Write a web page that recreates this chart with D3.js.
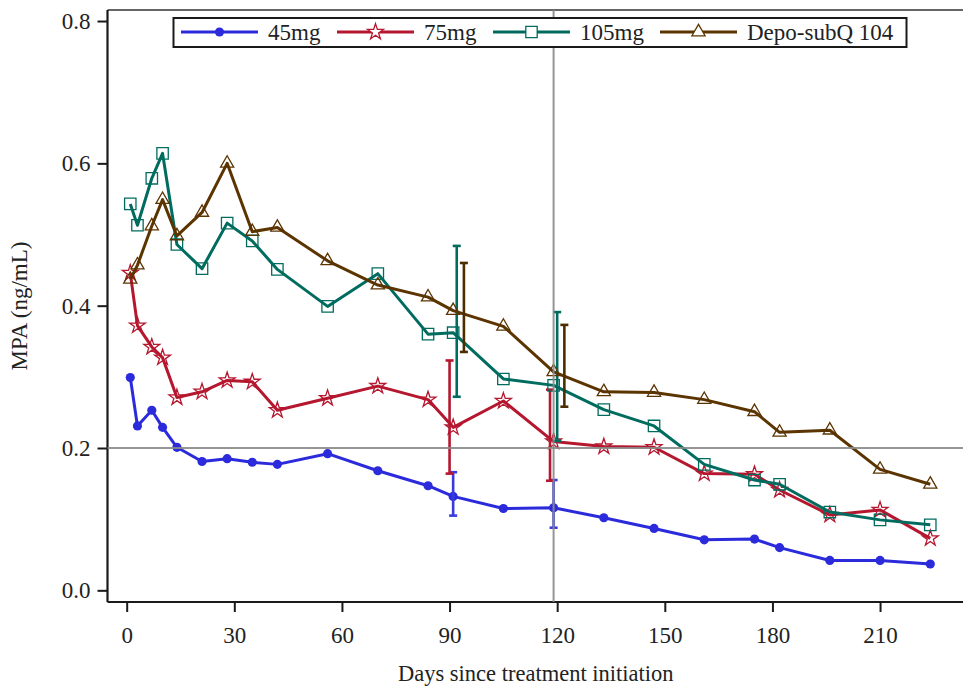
<!DOCTYPE html>
<html>
<head>
<meta charset="utf-8">
<script src="https://cdn.jsdelivr.net/npm/d3@7"></script>
<style>
  body { margin: 0; background: #fff; }
  svg { display: block; font-family: "Liberation Serif", "Times New Roman", serif; }
</style>
</head>
<body>
<div id="chart"></div>
<script>
// days of each sample
const days = [1, 3, 7, 10, 14, 21, 28, 35, 42, 56, 70, 84, 91, 105, 119, 133, 147, 161, 175, 182, 196, 210, 224];

const mpa45 = [0.299, 0.231, 0.253, 0.229, 0.201, 0.181, 0.185, 0.180, 0.177, 0.192, 0.168, 0.147, 0.132, 0.115, 0.116, 0.102, 0.087, 0.071, 0.072, 0.060, 0.042, 0.042, 0.037];
const mpa75 = [0.446, 0.372, 0.342, 0.327, 0.271, 0.279, 0.295, 0.293, 0.253, 0.270, 0.287, 0.268, 0.229, 0.266, 0.209, 0.202, 0.201, 0.164, 0.163, 0.141, 0.106, 0.113, 0.073];
const mpa105 = [0.543, 0.513, 0.579, 0.614, 0.486, 0.452, 0.516, 0.491, 0.451, 0.399, 0.445, 0.360, 0.362, 0.297, 0.288, 0.254, 0.231, 0.177, 0.155, 0.149, 0.110, 0.099, 0.092];
const mpaDepo = [0.437, 0.457, 0.512, 0.549, 0.498, 0.531, 0.600, 0.504, 0.510, 0.463, 0.429, 0.412, 0.393, 0.371, 0.307, 0.279, 0.278, 0.268, 0.251, 0.222, 0.225, 0.170, 0.149];

// error bars: [day, low, high]
const err45 = [[91, 0.105, 0.166], [119, 0.088, 0.155]];
const err75 = [[90, 0.164, 0.323], [118, 0.154, 0.282]];
const err105 = [[92, 0.272, 0.484], [120, 0.210, 0.391]];
const errDepo = [[94, 0.335, 0.460], [122, 0.258, 0.373]];

const seriesNames = ["45mg", "75mg", "105mg", "Depo-subQ 104"];
const yTicks = [0.0, 0.2, 0.4, 0.6, 0.8];
const xTicks = [0, 30, 60, 90, 120, 150, 180, 210];
const refDay = 119;
const refLevel = 0.2;

const series = [
  { name: seriesNames[0], values: mpa45, err: err45, color: "#2b2bdc", errColor: "#3a3ade", symbol: d3.symbolCircle, size: 66, fill: true },
  { name: seriesNames[1], values: mpa75, err: err75, color: "#b5172f", errColor: "#b5172f", symbol: d3.symbolStar, size: 78, fill: false },
  { name: seriesNames[2], values: mpa105, err: err105, color: "#006c5f", errColor: "#006c5f", symbol: d3.symbolSquare, size: 130, fill: false },
  { name: seriesNames[3], values: mpaDepo, err: errDepo, color: "#5b3400", errColor: "#4d2c00", symbol: d3.symbolTriangle, size: 75, fill: false }
];

const W = 963, H = 690;
const margin = { top: 10, right: -1, bottom: 88, left: 107.5 };
const width = W - margin.left - margin.right;
const height = H - margin.top - margin.bottom;

const svg = d3.select("#chart")
  .append("svg")
  .attr("width", W)
  .attr("height", H);

const g = svg.append("g")
  .attr("transform", `translate(${margin.left},${margin.top})`);

const x = d3.scaleLinear().domain([-5.35, 233.4]).range([0, width]);
const y = d3.scaleLinear().domain([-0.0164, 0.8155]).range([height, 0]);

// frame top
g.append("line")
  .attr("x1", 0).attr("x2", width)
  .attr("y1", 0).attr("y2", 0)
  .attr("stroke", "#333")
  .attr("stroke-width", 1.5);

// axes
const yAxis = g.append("g")
  .call(d3.axisLeft(y).tickValues(yTicks).tickFormat(d3.format(".1f")).tickSize(10).tickPadding(7));
const xAxis = g.append("g")
  .attr("transform", `translate(0,${height})`)
  .call(d3.axisBottom(x).tickValues(xTicks).tickSize(10).tickPadding(15));

[xAxis, yAxis].forEach((a) => {
  a.select(".domain").attr("stroke", "#1a1a1a").attr("stroke-width", 2.2);
  a.selectAll(".tick line").attr("stroke", "#1a1a1a").attr("stroke-width", 2);
  a.selectAll(".tick text")
    .attr("fill", "#222")
    .style("font-size", "23px")
    .style("font-family", "Liberation Serif, serif");
});
xAxis.select(".domain").attr("d", `M0,0H${width}`);
yAxis.select(".domain").attr("d", `M0,${height}V0`);

// axis titles
svg.append("text")
  .attr("transform", `translate(27,${margin.top + height / 2}) rotate(-90)`)
  .attr("text-anchor", "middle")
  .attr("fill", "#222")
  .style("font-size", "23px")
  .text("MPA (ng/mL)");

svg.append("text")
  .attr("x", margin.left + width / 2)
  .attr("y", 681)
  .attr("text-anchor", "middle")
  .attr("fill", "#222")
  .style("font-size", "22.5px")
  .text("Days since treatment initiation");

const line = d3.line()
  .x((d) => x(d[0]))
  .y((d) => y(d[1]));

series.forEach((s) => {
  const pts = days.map((d, i) => [d, s.values[i]]);

  g.append("path")
    .datum(pts)
    .attr("fill", "none")
    .attr("stroke", s.color)
    .attr("stroke-width", 3)
    .attr("stroke-linejoin", "round")
    .attr("d", line);

  g.selectAll(null)
    .data(pts)
    .enter()
    .append("path")
    .attr("transform", (d) => `translate(${x(d[0])},${y(d[1])})`)
    .attr("d", d3.symbol().type(s.symbol).size(s.size))
    .attr("fill", s.fill ? s.color : "none")
    .attr("stroke", s.color)
    .attr("stroke-width", s.fill ? 0 : 1.3);

  // error bars
  const eb = g.selectAll(null)
    .data(s.err)
    .enter()
    .append("g")
    .attr("stroke", s.errColor)
    .attr("stroke-width", 2.6);
  eb.append("line")
    .attr("x1", (d) => x(d[0])).attr("x2", (d) => x(d[0]))
    .attr("y1", (d) => y(d[1])).attr("y2", (d) => y(d[2]));
  eb.append("line")
    .attr("x1", (d) => x(d[0]) - 4).attr("x2", (d) => x(d[0]) + 4)
    .attr("y1", (d) => y(d[1])).attr("y2", (d) => y(d[1]));
  eb.append("line")
    .attr("x1", (d) => x(d[0]) - 4).attr("x2", (d) => x(d[0]) + 4)
    .attr("y1", (d) => y(d[2])).attr("y2", (d) => y(d[2]));
});

// reference lines
g.append("line")
  .attr("x1", 0).attr("x2", width)
  .attr("y1", y(refLevel)).attr("y2", y(refLevel))
  .attr("stroke", "#8a8a8a")
  .attr("stroke-opacity", 0.9)
  .attr("stroke-width", 2);
g.append("line")
  .attr("x1", x(refDay)).attr("x2", x(refDay))
  .attr("y1", 0).attr("y2", height)
  .attr("stroke", "#8a8a8a")
  .attr("stroke-opacity", 0.9)
  .attr("stroke-width", 2);

// legend
const legend = svg.append("g");
legend.append("rect")
  .attr("x", 173.5).attr("y", 18)
  .attr("width", 733).attr("height", 29)
  .attr("fill", "#fff")
  .attr("stroke", "#1a1a1a")
  .attr("stroke-width", 2);

const legendX = [181, 337, 493, 660];
series.forEach((s, i) => {
  const lx = legendX[i];
  const item = legend.append("g").attr("transform", `translate(${lx},32)`);
  item.append("line")
    .attr("x1", 0).attr("x2", 77)
    .attr("stroke", s.color)
    .attr("stroke-width", 3);
  item.append("path")
    .attr("transform", "translate(38.5,0)")
    .attr("d", d3.symbol().type(s.symbol).size(s.size))
    .attr("fill", s.fill ? s.color : "#fff")
    .attr("stroke", s.color)
    .attr("stroke-width", s.fill ? 0 : 1.3);
  item.append("text")
    .attr("x", 87)
    .attr("y", 7.5)
    .attr("fill", "#222")
    .style("font-size", "23px")
    .text(s.name);
});
</script>
</body>
</html>
